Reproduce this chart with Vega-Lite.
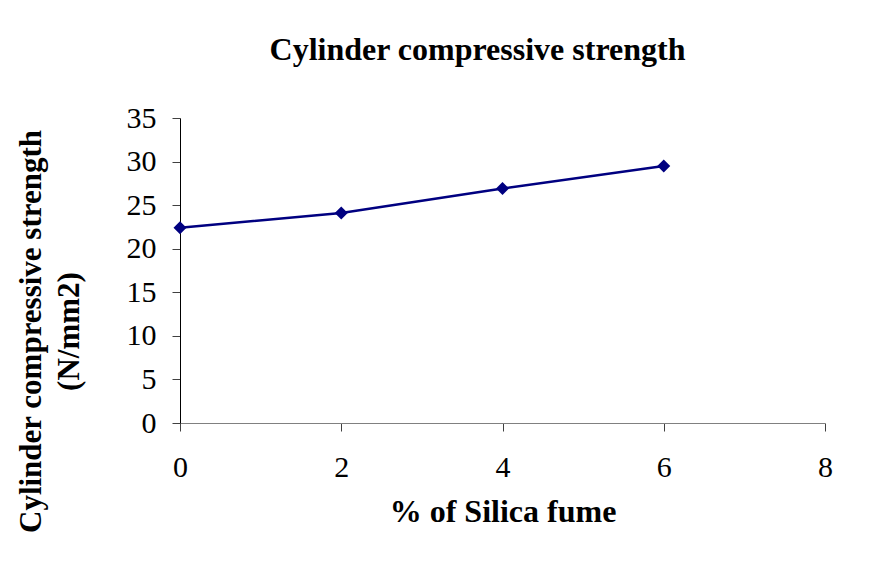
{
  "$schema": "https://vega.github.io/schema/vega-lite/v6.json",
  "autosize": {"type": "none"},
  "width": 645,
  "height": 305,
  "padding": {"left": 180, "top": 118, "right": 68, "bottom": 140},
  "background": "white",
  "title": {
    "text": "Cylinder compressive strength",
    "font": "Liberation Serif",
    "fontSize": 32,
    "fontWeight": "bold",
    "color": "black",
    "anchor": "middle",
    "dx": -25,
    "offset": 36
  },
  "data": {
    "values": [
      {"silica": 0, "strength": 22.4},
      {"silica": 2, "strength": 24.1},
      {"silica": 4, "strength": 26.9},
      {"silica": 6, "strength": 29.5}
    ]
  },
  "mark": {"type": "line", "color": "#000080", "strokeWidth": 2.5, "point": {"shape": "diamond", "filled": true, "color": "#000080", "size": 170, "opacity": 1}},
  "encoding": {
    "x": {
      "field": "silica",
      "type": "quantitative",
      "scale": {"domain": [0, 8], "nice": false},
      "axis": {
        "values": [0, 2, 4, 6, 8],
        "title": "% of Silica fume",
        "grid": false,
        "domainColor": "#808080",
        "tickColor": "#404040",
        "tickSize": 8,
        "labelFlush": false,
        "labelPadding": 21,
        "labelFont": "Liberation Serif",
        "labelFontSize": 30,
        "labelColor": "black",
        "titleFont": "Liberation Serif",
        "titleFontSize": 32,
        "titleFontWeight": "bold",
        "titleColor": "black",
        "titlePadding": 14
      }
    },
    "y": {
      "field": "strength",
      "type": "quantitative",
      "scale": {"domain": [0, 35], "nice": false},
      "axis": {
        "values": [0, 5, 10, 15, 20, 25, 30, 35],
        "title": ["Cylinder compressive strength", "(N/mm2)"],
        "grid": false,
        "domainColor": "black",
        "tickColor": "#404040",
        "tickSize": 8,
        "labelFlush": false,
        "labelPadding": 16,
        "labelFont": "Liberation Serif",
        "labelFontSize": 30,
        "labelColor": "black",
        "titleFont": "Liberation Serif",
        "titleFontSize": 31,
        "titleFontWeight": "bold",
        "titleColor": "black",
        "titleLineHeight": 38,
        "titleX": -149,
        "titleY": 213,
        "titleAlign": "center",
        "titleBaseline": "middle",
        "titleAngle": 270
      }
    }
  },
  "config": {"view": {"stroke": null}}
}
